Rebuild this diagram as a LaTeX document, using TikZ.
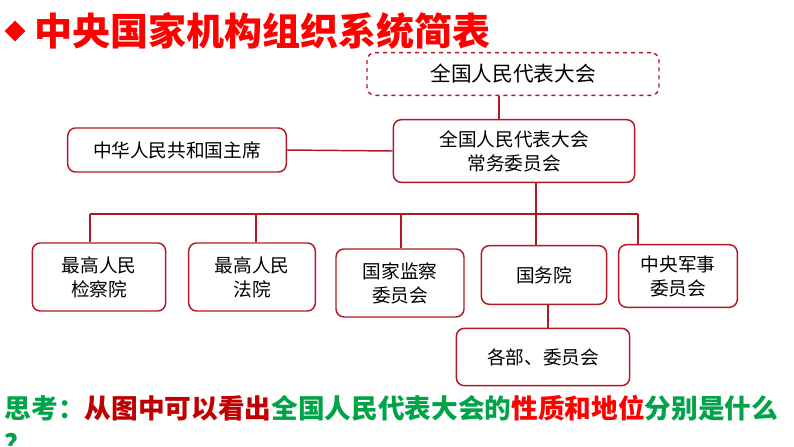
\documentclass[tikz,border=0pt]{standalone}
\usepackage{fontspec}
\newfontfamily\cjk{Noto Sans CJK SC}
\usetikzlibrary{positioning}
\definecolor{boxred}{RGB}{178,24,36}
\definecolor{thinkgreen}{RGB}{0,163,72}
\definecolor{darkred}{RGB}{192,0,0}
\tikzset{every picture/.style={line width=1.1pt}}
\tikzset{organ/.style={draw=boxred,rounded corners=6pt,align=center,font=\cjk\fontsize{14}{18}\selectfont,inner sep=0pt}}
\tikzset{link/.style={draw=boxred}}
\begin{document}
\begin{tikzpicture}[x=0.75pt,y=-0.75pt]
\useasboundingbox (0,0) rectangle (794,447);
\node[fill=red,rotate=45,minimum size=11pt,inner sep=0pt] (mark) at (15,31) {};
\node[anchor=west,text=red,font=\cjk\bfseries\fontsize{28.5}{30}\selectfont,inner sep=0pt] (title) at (34,31) {中央国家机构组织系统简表};
%
\node[organ,dashed,minimum width=219pt,minimum height=32pt,font=\cjk\fontsize{15.5}{18}\selectfont] (npc) at (513,74) {全国人民代表大会};
\node[organ,minimum width=181pt,minimum height=47pt] (npcsc) at (514,151) {全国人民代表大会\\常务委员会};
\node[organ,minimum width=164pt,minimum height=33pt] (pres) at (177,150) {中华人民共和国主席};
%
\node[organ,minimum width=100pt,minimum height=51pt] (proc) at (99,277) {最高人民\\检察院};
\node[organ,minimum width=95pt,minimum height=51pt] (court) at (252,277) {最高人民\\法院};
\node[organ,minimum width=96pt,minimum height=51pt] (super) at (400,283) {国家监察\\委员会};
\node[organ,minimum width=94pt,minimum height=44pt] (state) at (544,275) {国务院};
\node[organ,minimum width=89pt,minimum height=47pt] (cmc) at (678,276) {中央军事\\委员会};
\node[organ,minimum width=130pt,minimum height=43pt] (mins) at (543,357) {各部、委员会};
%
\coordinate (bus) at (536,214);
\draw[link] (npc.south -| 499,0) -- (npcsc.north -| 499,0);
\draw[link] (pres.east) -- (npcsc.west);
\draw[link] (npcsc.south -| bus) -- (state.north -| bus);
\draw[link] (90,214) -- (638,214);
\foreach \Target/\X in {proc/90,court/256,super/401,cmc/638}
\draw[link] (\X,214) -- (\Target.north -| \X,0);
\draw[link] (state.south -| 548,0) -- (mins.north -| 548,0);
%
\node[anchor=west,inner sep=0pt,font=\cjk\bfseries\fontsize{20}{24}\selectfont] (think) at (4,408)
{\textcolor{thinkgreen}{思考：}\textcolor{darkred}{从图中可以看出}\textcolor{thinkgreen}{全国人民代表大会的}\textcolor{red}{性质和地位}\textcolor{thinkgreen}{分别是什么}};
\node[anchor=north west,inner sep=0pt,text=thinkgreen,font=\cjk\bfseries\fontsize{20}{24}\selectfont] (q) at (4,432) {？};
\end{tikzpicture}
\end{document}
